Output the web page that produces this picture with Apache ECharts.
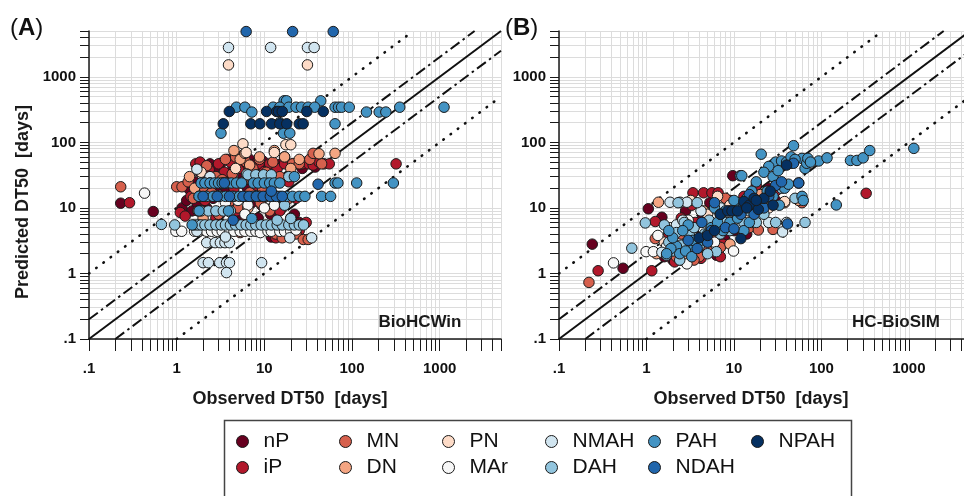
<!DOCTYPE html>
<html><head><meta charset="utf-8">
<script src="https://cdn.jsdelivr.net/npm/echarts@6/dist/echarts.min.js"></script>
<style>html,body{margin:0;padding:0;background:#fff}#c{width:964px;height:496px}</style>
</head><body><div id="c"></div>
<script>
const FONT = 'Liberation Sans, Arial, Helvetica, sans-serif';
const seriesNames = ['nP','iP','MN','DN','PN','MAr','NMAH','DAH','PAH','NDAH','NPAH'];
const seriesColors = ['#67001f','#b2182b','#d6604d','#f4a582','#fddbc7','#f7f7f7','#d1e5f0','#92c5de','#4393c3','#2166ac','#053061'];
const axisMin = 0.1, axisMax = 5000;
const tickValues = [0.1,0.2,0.3,0.4,0.5,0.6,0.7,0.8,0.9,1,2,3,4,5,6,7,8,9,10,20,30,40,50,60,70,80,90,100,200,300,400,500,600,700,800,900,1000,2000,3000,4000,5000];
const labelValues = [0.1,1,10,100,1000];
const labelTexts = ['.1','1','10','100','1000'];
const panelLabels = ['A','B'];
const panelModels = ['BioHCWin','HC-BioSIM'];
const xTitle = 'Observed DT50  [days]';
const yTitle = 'Predicted DT50  [days]';

// reference lines: 1:1, factor 2, factor 10
const refSolid = [[0.1,0.1],[5000,5000]];
const refDashUp = [[0.1,0.2],[2500,5000]];
const refDashLo = [[0.2,0.1],[5000,2500]];
const refDotUp = [[0.1,1],[500,5000]];
const refDotLo = [[1,0.1],[5000,500]];

// ---------- Panel A (BioHCWin) ----------
const A_nP = [[0.23,11.8],[0.54,8.8],[1.15,10],[1.3,13],[1.4,19],[1.5,9],[1.6,25],[1.7,12],[1.8,36],[1.9,47],[2.0,18],[2.2,10],[2.3,28],[2.4,47],[2.6,14],[2.7,40],[2.9,22],[3.1,8],[3.2,48],[3.4,30],[3.6,17],[3.8,55],[4.0,11],[4.2,36],[4.4,25],[4.6,48],[4.9,15],[5.2,60],[5.4,8],[5.7,30],[6.0,45],[6.4,20],[6.8,55],[7.2,12],[7.6,38],[8.0,48],[8.5,7],[9.0,28],[9.6,52],[10.2,16],[11,40],[11.8,8],[12.5,47],[13.5,25],[14.5,4],[15.5,47],[17,12],[18.5,47],[20,30],[22,8],[24,47],[27,40],[30,50],[34,47],[38,42],[12,3.6],[25,6]];
const A_iP = [[0.29,12],[318,47],[1.1,8.5],[1.25,7.5],[1.45,15],[1.65,47],[1.85,50],[2.1,13],[2.35,38],[2.55,22],[2.8,7],[3.0,47],[3.3,15],[3.5,35],[3.7,10],[4.1,50],[4.5,20],[4.8,9],[5.1,40],[5.5,24],[5.9,6],[6.3,47],[6.7,14],[7.1,32],[7.7,5],[8.2,22],[8.7,47],[9.3,11],[10,36],[10.8,5],[11.5,47],[12.5,15],[13.5,3.5],[14,40],[16,10],[17,47],[19,25],[21,47],[23,14],[25,4.5],[27,47],[30,6],[32,47],[36,45],[42,50],[48,47],[55,47],[15,9],[20,7]];
const A_MN = [[0.23,21],[1.0,21],[1.15,21],[1.35,25],[1.55,14],[1.75,9],[2.0,21],[2.2,44],[2.5,17],[2.8,30],[3.0,8],[3.3,27],[3.6,55],[3.9,12],[4.3,33],[4.7,60],[5.3,4.2],[5.7,25],[6.2,50],[6.8,17],[7.4,40],[8.2,5],[8.8,55],[9.5,20],[10.5,35],[11.5,9],[12.5,50],[13.5,4],[15,30],[17,60],[19,14],[21,47],[23,4],[25,47],[27.8,3.3],[31.6,3.3],[33,55],[36,68],[45,47],[5,10],[9,12],[3.5,4],[16,3.5]];
const A_DN = [[1.4,30],[1.6,20],[2.4,26],[4.5,75],[5.3,55],[6.0,68],[6.8,45],[7.6,28],[8.8,60],[10.5,30],[13,75],[17,60],[25,55],[42,67],[64,68],[3.0,15],[14,15],[6.5,10],[2.0,7],[20,40]];
const A_PN = [[3.9,1520],[31,1520],[5.7,95],[17.6,92],[20,92],[1.9,35],[4.7,40],[9,30],[13,70],[6.2,70]];
const A_MAr = [[0.43,16.8],[0.98,4.4],[1.14,4.4],[1.6,4.4],[1.8,4.4],[2.0,4.6],[2.2,4.4],[2.5,4.4],[2.9,4.4],[3.3,4.4],[3.6,12],[4.0,4.4],[4.5,4.4],[5.0,13],[5.3,4.4],[6.0,4.4],[6.5,11],[7.0,4.4],[8.0,4.4],[9.0,4.2],[10,10],[11,4.4],[12,4.4],[13,11],[15,4.4],[17,4.4],[20,4.4],[23,4.6],[2.7,15],[8.8,15],[1.8,15],[4.5,15],[6,8]];
const A_NMAH = [[3.9,2800],[11.8,2800],[31,2800],[37,2800],[2.0,1.46],[2.3,1.46],[3.1,1.46],[3.7,1.46],[4.0,1.46],[9.3,1.46],[3.7,1.03],[2.2,2.95],[2.75,2.95],[3.15,2.95],[3.55,2.95],[4.0,2.95],[19.5,3.5],[34.6,3.5],[1.7,39],[6.3,33],[1.7,4.4],[3.6,3.6],[2.4,30]];
const A_DAH = [[0.67,5.6],[0.95,5.5],[1.6,5.5],[1.75,5.5],[1.9,5.5],[2.1,5.5],[2.4,5.5],[2.8,5.5],[3.2,5.5],[3.6,5.5],[4.1,5.5],[4.7,5.5],[5.4,5.5],[6.2,5.5],[7.0,5.5],[8.0,5.5],[9.2,5.5],[10.5,5.5],[12,5.5],[14,5.5],[16,5.5],[19,5.5],[22,5.5],[25,5.5],[28,5.5],[1.9,9],[2.3,9],[2.8,9],[3.4,9],[4.1,9],[6.5,32],[8,32],[9.8,32],[12,32],[14,6.5],[17,11],[19,30],[2.4,24],[3.4,24],[20,6.9]];
const A_PAH = [[16.8,430],[17.9,430],[44,430],[4.8,344],[6.0,344],[7.2,290],[12.6,344],[15,344],[19,344],[23,344],[26.5,344],[31.6,344],[37.5,344],[64,344],[70,344],[76,344],[93,344],[146,290],[204,290],[243,290],[350,344],[1120,344],[3.2,138],[16.5,138],[19.5,138],[64,192],[15,200],[1.9,24],[2.1,24],[2.4,24],[2.7,24],[3.0,24],[3.3,24],[3.7,24],[4.2,24],[4.8,24],[5.5,24],[7.5,24],[8.5,24],[10,24],[11.5,24],[13,24],[15,24],[64,24],[69,24],[113,24],[296,24],[1.8,15],[2.2,15],[2.6,15],[3.1,15],[3.6,15],[4.3,15],[5.2,15],[6.2,15],[7.4,15],[8.8,15],[10.5,15],[12.5,15],[15,15],[18,15],[21,15],[25,15],[29,15],[45,15],[57,15],[1.5,5.5],[1.8,9],[3.9,9],[22,30],[7.2,6.9]];
const A_NDAH = [[6.2,4900],[21,4900],[61,4900],[41,23],[2.0,15],[2.9,15],[4.0,15],[5.7,15],[6.7,15],[8.1,15],[9.7,15],[11.7,15],[13.7,15],[16,15],[3.5,24],[12,18],[4.4,6.5]];
const A_NPAH = [[3.98,296],[10.6,296],[13.8,296],[30.5,296],[47,296],[3.4,192],[7.0,192],[8.9,192],[12.1,192],[15,192],[18,192],[25,192],[27.7,192],[14.5,296],[16,296]];

// ---------- Panel B (HC-BioSIM) ----------
const B_nP = [[0.24,2.8],[0.54,1.2],[1.05,9.7],[9.7,31],[1.5,7.2],[1.6,1.8],[1.9,2.1],[2.2,5],[2.5,1.6],[2.8,9],[3.3,2],[3.9,4],[4.4,7],[4.8,2.2],[5.3,12],[6.3,1.9],[6.9,6],[7.8,3.4],[8.8,10],[10,4.5],[12,7],[14,4],[17,14],[20,9],[25,20],[30,13],[2.0,1.6],[3.0,2.8],[5.8,3.2]];
const B_iP = [[0.28,1.1],[1.15,1.1],[1.26,6.2],[325,16.7],[3.4,17],[4.5,17],[5.6,17],[6.6,17],[1.8,4],[2.1,1.5],[2.5,7],[3,3.3],[3.3,11],[4,2.5],[5,5],[6,10],[7.5,2.8],[9,13],[11,5],[13,15],[18,22],[22,12],[30,18],[55,24],[2.4,1.8],[4.2,1.7],[7,1.8],[3.6,6]];
const B_MN = [[0.22,0.73],[1.26,3.4],[1.6,2],[2.2,1.8],[2.5,4],[3,2.1],[4,1.8],[5,2.2],[6,4],[7,2.5],[10,5],[15,5],[19,4.6],[28,4.7],[60,12],[8,14],[3.5,1.6]];
const B_DN = [[1.37,12.2],[1.3,2],[2,3],[3.5,2.6],[4.5,9],[7,6],[9,2.8],[12,5.5],[20,16],[38,12],[55,13],[2.7,1.8]];
const B_PN = [[1.6,3],[2.4,5],[3.2,13],[5,8],[6.5,15],[9,11],[14,7],[25,10],[38,12.5]];
const B_MAr = [[0.42,1.45],[0.99,2.15],[1.2,2.15],[2.9,1.4],[9.9,2.2],[1.35,3.8],[1.9,5],[3,6.5],[4.5,4.5],[6,3],[8,5],[11,9],[16,6],[22,13],[10.5,5.5],[1.7,2.6]];
const B_NMAH = [[36,4.3],[1.86,12.2],[2.42,12.2],[2.9,12.2],[2.2,5.5],[3.6,3.5],[4.2,9],[5,6],[6,5],[7,10],[9,8],[12,5],[18,11],[25,6],[40,6],[1.5,2.1],[3,2.4],[2.6,6.5]];
const B_DAH = [[0.68,2.43],[0.97,5.9],[6.3,2.15],[1.6,5.5],[1.8,3],[2,2.2],[2.2,4.2],[2.5,2.7],[2.7,6],[3.1,3.8],[3.5,5],[4,2.6],[4.6,4],[5.2,6.5],[6,5],[7,4],[8,6],[9,4.5],[11,12],[13,6],[15,9],[18,6],[22,8],[26,14],[30,6],[35,20],[50,14],[65,6],[2.3,12],[3.8,12],[5,2],[1.7,1.9],[2.4,1.6]];
const B_PAH = [[11.8,31],[12.3,31],[20.5,66],[48,89],[93,52],[116,58],[215,53],[255,53],[300,58],[357,75],[1140,81],[148,11.1],[30,50],[35,52],[40,50],[45,48],[60,57],[65,40],[68,48],[70,57],[75,50],[25,43],[22,35],[28,30],[32,37],[38,20],[18,25],[16,18],[14,14],[12,11],[10,13],[8,9],[7,8],[6,10],[5.5,5],[5,4],[4.5,3.3],[4,3.1],[3.5,2.5],[3,5.5],[2.6,4.5],[2.2,2.6],[2,3.5],[1.8,4.5],[2.4,2],[3.4,3.2],[60,15],[62,13],[42,23],[20,13],[16,11],[24,18],[28,15],[33,11],[9,6],[11,7],[13,4.5],[15,6],[6.5,6],[7.5,4.5],[45,60],[50,55],[2.8,2.2],[3.3,1.8],[1.9,2.4],[1.7,2]];
const B_NDAH = [[41,5.7],[3,3.2],[3.8,2.4],[4.3,6],[5.5,4.5],[6,12],[7,8],[8,5],[9,9],[10,4.8],[12,8],[13,11],[15,16],[17,8],[19,12],[22,10],[25,15],[30,22],[35,25],[48,48],[55,24],[5,3]];
const B_NPAH = [[4,3.5],[5,3.8],[7,8],[8.5,9],[9.5,9],[11,9],[13,12.5],[15,11],[17,14],[19,9.5],[22,14],[26,18],[28,11],[12,3.4],[40,45],[14,10],[18,13],[6,4.5]];

const panelData = [
  [A_nP,A_iP,A_MN,A_DN,A_PN,A_MAr,A_NMAH,A_DAH,A_PAH,A_NDAH,A_NPAH],
  [B_nP,B_iP,B_MN,B_DN,B_PN,B_MAr,B_NMAH,B_DAH,B_PAH,B_NDAH,B_NPAH]
];

// legend layout (column-major, as in the figure)
const legendCols = [['nP','iP'],['MN','DN'],['PN','MAr'],['NMAH','DAH'],['PAH','NDAH'],['NPAH']];
const legendX = [242,345,448,551,654,757];

const L = v => Math.log10(v);
const minL = L(axisMin), maxL = L(axisMax);
function labelFor(v){
  for (let i=0;i<labelValues.length;i++){ if (Math.abs(L(labelValues[i])-v) < 1e-6) return labelTexts[i]; }
  return '';
}
const grids = [
  {left:89, top:31, width:412, height:308, outerBoundsMode:'none', containLabel:false},
  {left:559, top:31, width:411, height:308, outerBoundsMode:'none', containLabel:false}
];
function logAxis(g){ return {type:'log', logBase:10, gridIndex:g, min:axisMin, max:axisMax, show:false}; }
function valAxis(g, isX){
  return {
    type:'value', gridIndex:g, min:minL, max:maxL, position: isX?'bottom':'left',
    axisLine:{show:true, onZero:false, lineStyle:{color:'#1a1a1a', width:1.5}},
    axisTick:{show:true, inside:false, length: isX?12:9, customValues: tickValues.map(L), lineStyle:{color:'#1a1a1a', width:1}},
    axisLabel:{show:true, customValues: labelValues.map(L), margin: isX?22:13, formatter: v => labelFor(v),
      fontSize:15, fontWeight:'bold', color:'#111', fontFamily:FONT},
    splitLine:{show:true, lineStyle:{color:'#dcdcdc', width:1}},
    minorTick:{show:false}, minorSplitLine:{show:false}
  };
}
const xAxes = [logAxis(0), valAxis(0,true), logAxis(1), valAxis(1,true)];
const yAxes = [logAxis(0), valAxis(0,false), logAxis(1), valAxis(1,false)];

const series = [];
for (let p=0;p<2;p++){
  const ax = p*2;
  const mk = (data, type, width, cap) => ({type:'line', xAxisIndex:ax, yAxisIndex:ax, data, symbol:'none', silent:true,
    lineStyle:{color:'#111', width, type, cap}, z:2, animation:false});
  series.push(mk(refSolid,'solid',2,'butt'));
  series.push(mk(refDashUp,[11,4,2.5,4],2,'butt'));
  series.push(mk(refDashLo,[11,4,2.5,4],2,'butt'));
  series.push(mk(refDotUp,[0.5,8.5],2.6,'round'));
  series.push(mk(refDotLo,[0.5,8.5],2.6,'round'));
  seriesNames.forEach((n,i)=>{
    series.push({type:'scatter', name:n, xAxisIndex:ax, yAxisIndex:ax, data: panelData[p][i],
      symbol:'circle', symbolSize:10.5, z:3,
      itemStyle:{color:seriesColors[i], borderColor:'#1a1a1a', borderWidth:1, opacity:1}});
  });
}

const legends = legendCols.map((d,i)=>({
  data:d, orient:'vertical', left: legendX[i]-6, top:431, itemWidth:12, itemHeight:12, itemGap:5,
  icon:'circle', selectedMode:false, padding:0,
  itemStyle:{borderColor:'#1a1a1a', borderWidth:1},
  textStyle:{fontSize:21, lineHeight:20, color:'#111', fontFamily:FONT, padding:[0,0,0,10]}
}));

const graphic = [
  {type:'rect', left:222, top:418, shape:{width:627, height:100}, style:{fill:'none', stroke:'#444', lineWidth:1.5}, z:0},
  {type:'text', x:10, y:16, z:100, style:{text:'{p|(}{b|'+panelLabels[0]+'}{p|)}', rich:{p:{fontSize:24, fontFamily:FONT, fill:'#111'}, b:{fontSize:24, fontWeight:'bold', fontFamily:FONT, fill:'#111'}}}},
  {type:'text', x:505, y:16, z:100, style:{text:'{p|(}{b|'+panelLabels[1]+'}{p|)}', rich:{p:{fontSize:24, fontFamily:FONT, fill:'#111'}, b:{fontSize:24, fontWeight:'bold', fontFamily:FONT, fill:'#111'}}}},
  {type:'text', x:290, y:399, z:100, style:{text:xTitle, textAlign:'center', textVerticalAlign:'middle', fontSize:18, fontWeight:'bold', fontFamily:FONT, fill:'#1a1a1a'}},
  {type:'text', x:751, y:399, z:100, style:{text:xTitle, textAlign:'center', textVerticalAlign:'middle', fontSize:18, fontWeight:'bold', fontFamily:FONT, fill:'#1a1a1a'}},
  {type:'text', x:23, y:202, z:100, rotation:Math.PI/2, style:{text:yTitle, textAlign:'center', textVerticalAlign:'middle', fontSize:18, fontWeight:'bold', fontFamily:FONT, fill:'#1a1a1a'}},
  {type:'text', x:420, y:322, z:100, style:{text:panelModels[0], textAlign:'center', textVerticalAlign:'middle', fontSize:17, fontWeight:'bold', fontFamily:FONT, fill:'#1a1a1a'}},
  {type:'text', x:896, y:322, z:100, style:{text:panelModels[1], textAlign:'center', textVerticalAlign:'middle', fontSize:17, fontWeight:'bold', fontFamily:FONT, fill:'#1a1a1a'}}
];

const chart = echarts.init(document.getElementById('c'), null, {renderer:'canvas'});
chart.setOption({
  animation:false,
  backgroundColor:'#ffffff',
  textStyle:{fontFamily:FONT},
  grid: grids,
  xAxis: xAxes,
  yAxis: yAxes,
  legend: legends,
  graphic: graphic,
  series: series
});
</script></body></html>
